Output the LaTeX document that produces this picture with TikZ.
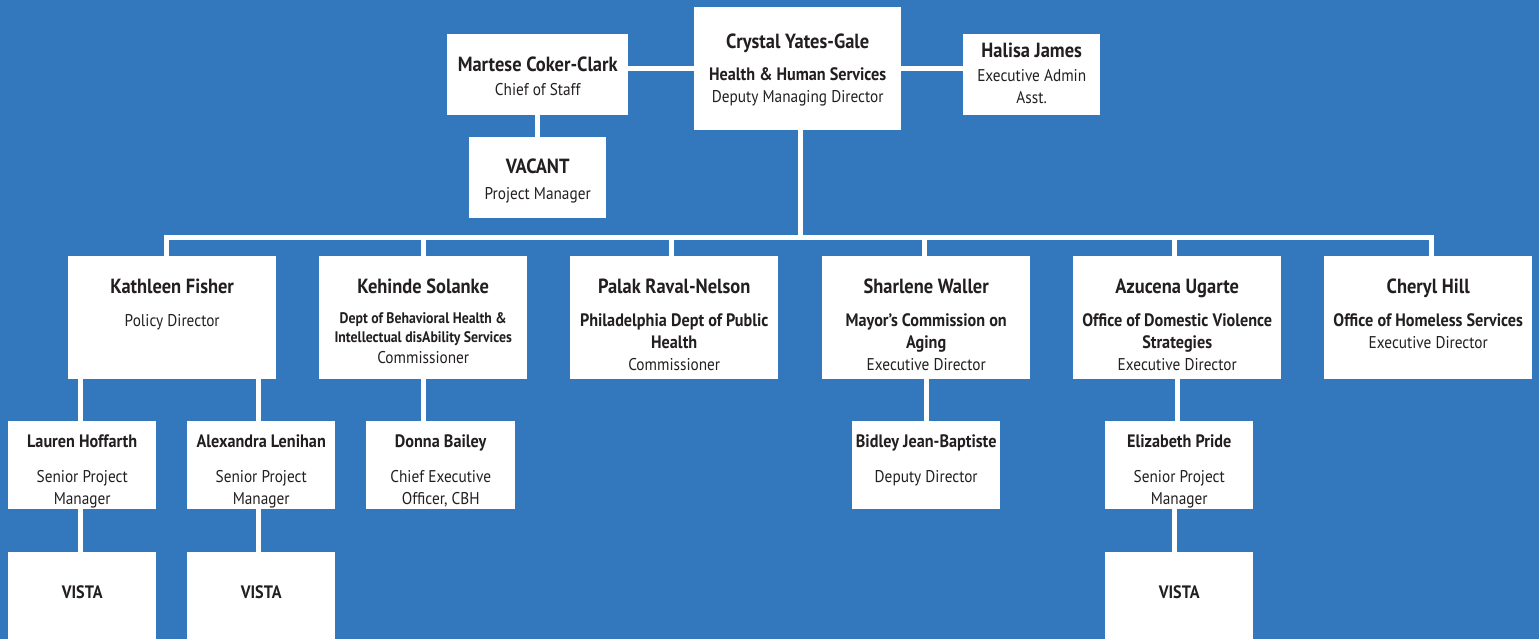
\documentclass[tikz,border=0pt]{standalone}
\usepackage{fontspec}
\setmainfont{PT Sans}[FakeStretch=0.9]
\usetikzlibrary{calc}
\definecolor{bg}{HTML}{3377BD}
\definecolor{ink}{HTML}{231F20}
\tikzset{
  card/.style={fill=white, draw=none, inner sep=0pt, anchor=north west},
  tx/.style={anchor=base, inner sep=0pt, text=ink},
  bigname/.style={tx, font=\bfseries\fontsize{20.5}{24}\selectfont},
  smallname/.style={tx, font=\bfseries\fontsize{18}{21}\selectfont},
  dept/.style={tx, font=\bfseries\fontsize{18}{21}\selectfont},
  deptsmall/.style={tx, font=\bfseries\fontsize{15.3}{18}\selectfont},
  role/.style={tx, font=\fontsize{17}{20}\selectfont},
  link/.style={draw=white, line width=5pt},
}
\newcommand\tline[4]{\node[#2] (#1-#3) at ($(#1.north)+(0,#3)$) {#4};}
\begin{document}
\begin{tikzpicture}[x=1pt,y=-1pt]
\fill[bg] (0,0) rectangle (1539,639);
\useasboundingbox (0,0) rectangle (1539,639);

% boxes
\node[card, minimum width=207pt, minimum height=123pt] (crystal) at (694,7) {};
\node[card, minimum width=181pt, minimum height=81pt] (martese) at (447,34) {};
\node[card, minimum width=137pt, minimum height=81pt] (halisa) at (963,34) {};
\node[card, minimum width=137pt, minimum height=81pt] (vacant) at (469,137) {};
\node[card, minimum width=208pt, minimum height=123pt] (kathleen) at (68,256) {};
\node[card, minimum width=208pt, minimum height=123pt] (kehinde) at (319,256) {};
\node[card, minimum width=208pt, minimum height=123pt] (palak) at (570,256) {};
\node[card, minimum width=208pt, minimum height=123pt] (sharlene) at (822,256) {};
\node[card, minimum width=208pt, minimum height=123pt] (azucena) at (1073,256) {};
\node[card, minimum width=208pt, minimum height=123pt] (cheryl) at (1324,256) {};
\node[card, minimum width=148pt, minimum height=88pt] (lauren) at (8,421) {};
\node[card, minimum width=148pt, minimum height=88pt] (alexandra) at (187,421) {};
\node[card, minimum width=149pt, minimum height=88pt] (donna) at (366,421) {};
\node[card, minimum width=148pt, minimum height=88pt] (bidley) at (852,421) {};
\node[card, minimum width=148pt, minimum height=88pt] (elizabeth) at (1105,421) {};
\node[card, minimum width=148pt, minimum height=87pt] (vista1) at (8,552) {};
\node[card, minimum width=148pt, minimum height=87pt] (vista2) at (187,552) {};
\node[card, minimum width=148pt, minimum height=87pt] (vista3) at (1105,552) {};

% texts
\tline{crystal}{bigname}{42}{Crystal Yates-Gale}
\tline{crystal}{dept}{74}{Health \& Human Services}
\tline{crystal}{role}{96}{Deputy Managing Director}
\tline{martese}{bigname}{38}{Martese Coker-Clark}
\tline{martese}{role}{62}{Chief of Staff}
\tline{halisa}{bigname}{24}{Halisa James}
\tline{halisa}{role}{48}{Executive Admin}
\tline{halisa}{role}{70}{Asst.}
\tline{vacant}{bigname}{37}{VACANT}
\tline{vacant}{role}{63}{Project Manager}

\tline{kathleen}{bigname}{37}{Kathleen Fisher}
\tline{kathleen}{role}{70}{Policy Director}
\tline{kehinde}{bigname}{37}{Kehinde Solanke}
\tline{kehinde}{deptsmall}{67}{Dept of Behavioral Health \&}
\tline{kehinde}{deptsmall}{86}{Intellectual disAbility Services}
\tline{kehinde}{role}{107}{Commissioner}
\tline{palak}{bigname}{37}{Palak Raval-Nelson}
\tline{palak}{dept}{70}{Philadelphia Dept of Public}
\tline{palak}{dept}{92}{Health}
\tline{palak}{role}{114}{Commissioner}
\tline{sharlene}{bigname}{37}{Sharlene Waller}
\tline{sharlene}{dept}{70}{Mayor’s Commission on}
\tline{sharlene}{dept}{92}{Aging}
\tline{sharlene}{role}{114}{Executive Director}
\tline{azucena}{bigname}{37}{Azucena Ugarte}
\tline{azucena}{dept}{70}{Office of Domestic Violence}
\tline{azucena}{dept}{92}{Strategies}
\tline{azucena}{role}{114}{Executive Director}
\tline{cheryl}{bigname}{37}{Cheryl Hill}
\tline{cheryl}{dept}{70}{Office of Homeless Services}
\tline{cheryl}{role}{92}{Executive Director}

\tline{lauren}{smallname}{26}{Lauren Hoffarth}
\tline{lauren}{role}{61}{Senior Project}
\tline{lauren}{role}{83}{Manager}
\tline{alexandra}{smallname}{26}{Alexandra Lenihan}
\tline{alexandra}{role}{61}{Senior Project}
\tline{alexandra}{role}{83}{Manager}
\tline{donna}{smallname}{26}{Donna Bailey}
\tline{donna}{role}{61}{Chief Executive}
\tline{donna}{role}{83}{Officer, CBH}
\tline{bidley}{smallname}{26}{Bidley Jean-Baptiste}
\tline{bidley}{role}{61}{Deputy Director}
\tline{elizabeth}{smallname}{26}{Elizabeth Pride}
\tline{elizabeth}{role}{61}{Senior Project}
\tline{elizabeth}{role}{83}{Manager}
\tline{vista1}{smallname}{46}{VISTA}
\tline{vista2}{smallname}{46}{VISTA}
\tline{vista3}{smallname}{46}{VISTA}

% connectors
\coordinate (busL) at (166,237.5);
\coordinate (busR) at (1431,237.5);
\draw[link] (crystal.west) -- (crystal.west -| martese.east);
\draw[link] (crystal.east) -- (crystal.east -| halisa.west);
\draw[link] (martese.south) -- (vacant.north);
\draw[link] ([xshift=3pt]crystal.south) -- ([xshift=3pt]crystal.south |- busL);
\draw[link] (busL |- kathleen.north) -- (busL) -- (busR) -- (busR |- cheryl.north);
\draw[link] (kehinde.north |- busL) -- (kehinde.north);
\draw[link] ([xshift=-3pt]palak.north |- busL) -- ([xshift=-3pt]palak.north);
\draw[link] ([xshift=-2pt]sharlene.north |- busL) -- ([xshift=-2pt]sharlene.north);
\draw[link] ([xshift=-3pt]azucena.north |- busL) -- ([xshift=-3pt]azucena.north);
\draw[link] ([xshift=-2pt]lauren.north) -- ([xshift=-2pt]lauren.north |- kathleen.south);
\draw[link] ([xshift=-3pt]alexandra.north) -- ([xshift=-3pt]alexandra.north |- kathleen.south);
\draw[link] (kehinde.south) -- (kehinde.south |- donna.north);
\draw[link] (sharlene.south) -- (sharlene.south |- bidley.north);
\draw[link] (azucena.south) -- (azucena.south |- elizabeth.north);
\draw[link] ([xshift=-2pt]lauren.south) -- ([xshift=-2pt]vista1.north);
\draw[link] ([xshift=-3pt]alexandra.south) -- ([xshift=-3pt]vista2.north);
\draw[link] ([xshift=-5pt]elizabeth.south) -- ([xshift=-5pt]vista3.north);
\end{tikzpicture}
\end{document}
